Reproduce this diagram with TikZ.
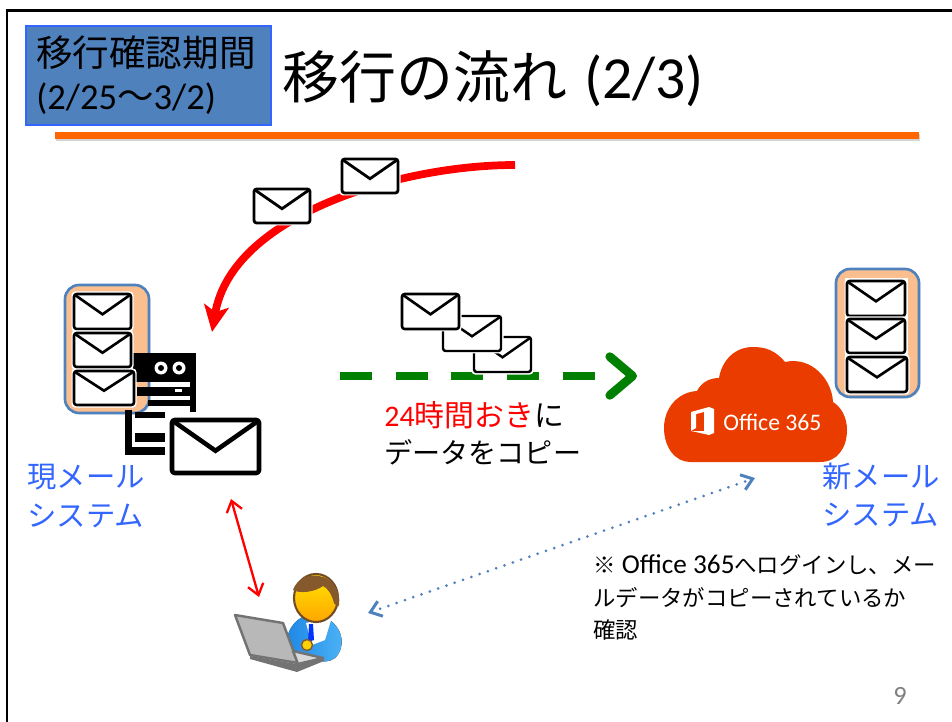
\documentclass[tikz,border=0pt]{standalone}
\usepackage{fontspec}
\setmainfont{Carlito}
\newfontfamily\cjk{Noto Sans CJK JP}
\usetikzlibrary{arrows.meta,shadows}
\definecolor{mailblue}{HTML}{4F81BD}
\definecolor{labelblue}{HTML}{3366FF}
\definecolor{peach}{HTML}{FBBF8F}
\definecolor{officered}{HTML}{EB3C00}
\definecolor{barorange}{HTML}{FF6600}
\definecolor{copygreen}{HTML}{007F00}
\definecolor{suitblue}{HTML}{1E88E5}
\definecolor{suitlight}{HTML}{4FB4F5}
\tikzset{
	mailline/.style={draw=black, fill=white, line join=round, rounded corners=1.5pt},
	mailstack/.style={draw=mailblue, fill=peach, line width=1.5pt, rounded corners=8pt, drop shadow={shadow xshift=0.8pt, shadow yshift=-0.8pt, opacity=0.3}},
	sidelabel/.style={anchor=west, inner sep=0, text=labelblue, align=left, font=\fontsize{16.7}{21.8}\selectfont\cjk},
	px/.style={anchor=west, inner sep=0, align=left},
}
% envelope: line width, left, top, width, height
\def\mailicon[#1](#2,#3)(#4,#5){
	\fill[white, rounded corners=2pt] ({#2-2.5}, {#3-2.5}) rectangle ({#2+#4+2.5}, {#3+#5+2.5});
	\draw[mailline, line width=#1] (#2, #3) rectangle ({#2+#4}, {#3+#5});
	\draw[line width=#1, line join=miter] ({#2+1}, {#3+1}) -- ({#2+0.5*#4}, {#3+0.58*#5}) -- ({#2+#4-1}, {#3+1});
}
\begin{document}
\begin{tikzpicture}[x=0.02cm, y=-0.02cm]
	\useasboundingbox (0, 0) rectangle (952, 722);
	
	%%%%% frame and title %%%%%
	\draw[line width=1.5pt] (7, 722) -- (7, 10.5) -- (952, 10.5);
	\node[draw=labelblue, fill=mailblue, line width=1pt, inner sep=0, minimum width=139.4pt, minimum height=56.1pt] (period) at (148.5, 75.5) {};
	\node[px] (periodname) at (36, 53) {\fontsize{20.8}{24}\selectfont\cjk 移行確認期間};
	\node[px] (perioddate) at (36, 99) {\fontsize{20.8}{24}\selectfont (2/25{\cjk 〜}3/2)};
	\node[px] (title) at (282, 79) {\fontsize{34}{40}\selectfont{\fontsize{32.4}{40}\selectfont\cjk 移行の流れ}\kern2pt{} (2/3)};
	\fill[barorange, drop shadow={shadow xshift=0.8pt, shadow yshift=-1pt, opacity=0.35}] (55, 132) rectangle (919, 139.5);
	
	%%%%% red mail arrow %%%%%
	\coordinate (mailfrom) at (515, 165);
	\coordinate (mailto) at (212, 332);
	\draw[red, line width=4.4pt, -{Stealth[length=15pt, width=14pt, inset=3.5pt]}] (mailfrom) .. controls (400, 165) and (232, 215) .. (mailto);
	\mailicon[1.6pt](254, 189)(56, 34);
	\mailicon[1.6pt](342, 159)(56, 34);
	
	%%%%% old system %%%%%
	\draw[mailstack] (65, 285) rectangle (149, 413);
	\fill[black] (133, 353) rectangle (196, 382);
	\fill[black] (190, 382) rectangle (196, 412);
	\fill[black] (137, 387) rectangle (190, 396);
	\fill[white] (175, 389) rectangle (182, 392);
	\fill[black] (148, 400) rectangle (196, 406);
	\fill[black] (135, 412) rectangle (165, 418);
	\fill[black] (125, 410) rectangle (132, 455);
	\fill[black] (125, 447) rectangle (165, 455);
	\fill[black] (135, 433) rectangle (165, 442);
	\foreach \cx in {161, 179}{
		\fill[white] (\cx, 368) circle (6.5);
		\fill[black] (\cx, 368) circle (3);
	}
	\mailicon[1.5pt](74, 294)(57, 35);
	\mailicon[1.5pt](74, 333)(57, 34);
	\mailicon[1.5pt](74, 371)(60, 34);
	\mailicon[2.6pt](172, 420)(87, 53);
	\node[sidelabel] (oldsys) at (27, 496) {現メール\\システム};
	
	%%%%% copy arrow %%%%%
	\coordinate (copyfrom) at (340, 376);
	\coordinate (copyto) at (637, 376);
	\draw[copygreen, line width=5pt, dash pattern=on 18.1pt off 13.6pt on 18.1pt off 13.6pt on 18.1pt off 13.6pt on 18.1pt off 13.6pt on 18.1pt off 80pt, line cap=butt, -{Straight Barb[length=13pt, width=22pt, line width=5pt, round]}] (copyfrom) -- (copyto);
	\mailicon[1.4pt](474, 337)(57, 35);
	\mailicon[1.4pt](443, 316)(58, 35);
	\mailicon[1.5pt](402, 294)(57, 35);
	\node[px] (copytext) at (384, 415) {\fontsize{17}{21}\selectfont\textcolor{red}{24{\cjk 時間おき}}{\cjk に}};
	\node[px] (copytexttwo) at (384, 452) {\fontsize{16}{21}\selectfont\cjk データをコピー};
	
	%%%%% new system %%%%%
	\draw[mailstack] (836, 269) rectangle (919, 397);
	\fill[white] (845, 278) rectangle (908, 394);
	\mailicon[1.5pt](847, 281)(58, 35);
	\mailicon[1.5pt](847, 319)(58, 34);
	\mailicon[1.5pt](847, 357)(60, 35);
	\fill[officered] (690, 462) -- (820, 462) .. controls (838, 462) and (847, 447) .. (847, 430)
		.. controls (847, 417) and (841, 407) .. (833, 402)
		.. controls (832, 380) and (812, 356) .. (785, 362)
		.. controls (775, 350) and (765, 347) .. (753, 347)
		.. controls (735, 347) and (722, 360) .. (719, 378)
		.. controls (709, 378) and (701, 383) .. (697, 391)
		.. controls (678, 392) and (664, 408) .. (664, 428)
		.. controls (664, 447) and (675, 462) .. (690, 462) -- cycle;
	\fill[white] (691, 412) -- (709, 407) -- (714, 409) -- (714, 433) -- (709, 435) -- (691, 431) -- (704, 431) -- (704, 412) -- (696, 414) -- (696, 428) -- (691, 431) -- cycle;
	\node[px, text=white] (officename) at (723, 422) {\fontsize{13.5}{18}\selectfont Office 365};
	\node[sidelabel] (newsys) at (822, 495) {新メール\\システム};
	
	%%%%% user %%%%%
	\fill[left color=suitblue, right color=suitlight] (315, 613) .. controls (298, 615) and (287, 628) .. (287, 642) .. controls (300, 660) and (325, 666) .. (335, 658) .. controls (346, 648) and (346, 622) .. (315, 613) -- cycle;
	\fill[white] (306, 623) -- (332, 617) -- (325, 640) -- (312, 645) -- cycle;
	\fill[blue!80!cyan] (309, 624) -- (313, 624) -- (314, 640) -- (308, 642) -- cycle;
	\draw[brown!60!black, line width=1.2pt, top color=yellow!80!orange, bottom color=orange!70!yellow] (316, 598) ellipse (22 and 24);
	\fill[brown!70!black] (293, 590) .. controls (297, 578) and (310, 574) .. (319, 576) .. controls (333, 578) and (341, 592) .. (339, 605) .. controls (338, 608) and (337, 606) .. (334, 603) .. controls (332, 595) and (328, 588) .. (323, 586) .. controls (315, 592) and (300, 594) .. (293, 590) -- cycle;
	\draw[brown!70!black, line width=0.8pt, fill=yellow!70!orange] (307, 645) circle (5.5);
	\draw[black!55, line width=1.4pt, fill=black!28, line join=round] (235, 615) -- (283, 623) -- (298, 663) -- (250, 655) -- cycle;
	\draw[black!55, line width=1.4pt, fill=black!15, line join=round] (293, 651) -- (323, 658) -- (298, 664) -- cycle;
	\fill[black!55] (250, 656) -- (297, 664) -- (324, 657) -- (324, 661) -- (297, 672) -- (250, 659) -- cycle;
	\coordinate (userup) at (259, 597);
	\coordinate (mailnear) at (231, 499);
	\draw[red, line width=1.3pt, {Straight Barb[length=6pt, width=9pt]}-{Straight Barb[length=6pt, width=9pt]}] (mailnear) -- (userup);
	\coordinate (userright) at (368, 613);
	\coordinate (cloudbelow) at (755, 478);
	\draw[mailblue, line width=1.7pt, line cap=round, dash pattern=on 0pt off 5pt, {Straight Barb[length=6pt, width=9pt]}-{Straight Barb[length=6pt, width=9pt]}] (userright) -- (cloudbelow);
	
	%%%%% note and page number %%%%%
	\node[px] (note) at (593, 565) {\fontsize{15.5}{18}\selectfont{\fontsize{12.75}{18}\selectfont\cjk ※} Office 365{\fontsize{12.75}{18}\selectfont\cjk へログインし、メー}};
	\node[px] (notetwo) at (593, 597.5) {\fontsize{12.75}{18}\selectfont\cjk ルデータがコピーされているか};
	\node[px] (notethree) at (593, 630) {\fontsize{12.75}{18}\selectfont\cjk 確認};
	\node[px, text=black!50] (pagenum) at (893, 696) {\fontsize{15}{18}\selectfont 9};
\end{tikzpicture}
\end{document}
